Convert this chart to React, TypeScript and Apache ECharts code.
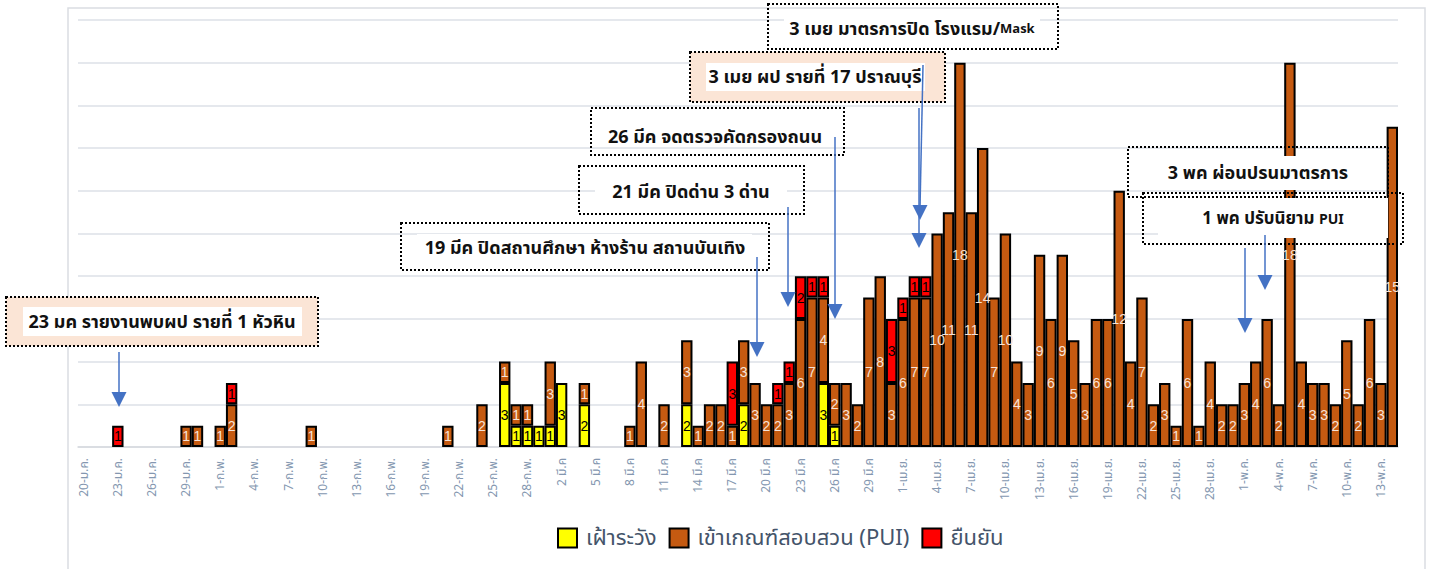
import React, { useEffect, useRef } from "react";
import * as echarts from "echarts";

const categories = [
  "20-ม.ค.", "21-ม.ค.", "22-ม.ค.", "23-ม.ค.", "24-ม.ค.", "25-ม.ค.", "26-ม.ค.", "27-ม.ค.", "28-ม.ค.", "29-ม.ค.", "30-ม.ค.", "31-ม.ค.",
  "1-ก.พ.", "2-ก.พ.", "3-ก.พ.", "4-ก.พ.", "5-ก.พ.", "6-ก.พ.", "7-ก.พ.", "8-ก.พ.", "9-ก.พ.", "10-ก.พ.",
  "11-ก.พ.", "12-ก.พ.", "13-ก.พ.", "14-ก.พ.", "15-ก.พ.", "16-ก.พ.", "17-ก.พ.", "18-ก.พ.", "19-ก.พ.", "20-ก.พ.",
  "21-ก.พ.", "22-ก.พ.", "23-ก.พ.", "24-ก.พ.", "25-ก.พ.", "26-ก.พ.", "27-ก.พ.", "28-ก.พ.", "29-ก.พ.",
  "1 มี.ค", "2 มี.ค", "3 มี.ค", "4 มี.ค", "5 มี.ค", "6 มี.ค", "7 มี.ค", "8 มี.ค", "9 มี.ค", "10 มี.ค",
  "11 มี.ค", "12 มี.ค", "13 มี.ค", "14 มี.ค", "15 มี.ค", "16 มี.ค", "17 มี.ค", "18 มี.ค", "19 มี.ค", "20 มี.ค",
  "21 มี.ค", "22 มี.ค", "23 มี.ค", "24 มี.ค", "25 มี.ค", "26 มี.ค", "27 มี.ค", "28 มี.ค", "29 มี.ค", "30 มี.ค", "31 มี.ค",
  "1-เม.ย.", "2-เม.ย.", "3-เม.ย.", "4-เม.ย.", "5-เม.ย.", "6-เม.ย.", "7-เม.ย.", "8-เม.ย.", "9-เม.ย.", "10-เม.ย.",
  "11-เม.ย.", "12-เม.ย.", "13-เม.ย.", "14-เม.ย.", "15-เม.ย.", "16-เม.ย.", "17-เม.ย.", "18-เม.ย.", "19-เม.ย.", "20-เม.ย.",
  "21-เม.ย.", "22-เม.ย.", "23-เม.ย.", "24-เม.ย.", "25-เม.ย.", "26-เม.ย.", "27-เม.ย.", "28-เม.ย.", "29-เม.ย.", "30-เม.ย.",
  "1-พ.ค.", "2-พ.ค.", "3-พ.ค.", "4-พ.ค.", "5-พ.ค.", "6-พ.ค.", "7-พ.ค.", "8-พ.ค.", "9-พ.ค.", "10-พ.ค.",
  "11-พ.ค.", "12-พ.ค.", "13-พ.ค.", "14-พ.ค.",
];

const seriesNames = ["เฝ้าระวัง", "เข้าเกณฑ์สอบสวน (PUI)", "ยืนยัน"];

// เฝ้าระวัง (yellow)
const watchValues: Record<string, number> = {
  "26-ก.พ.": 3, "27-ก.พ.": 1, "28-ก.พ.": 1, "29-ก.พ.": 1, "1 มี.ค": 1, "2 มี.ค": 3,
  "4 มี.ค": 2, "13 มี.ค": 2, "18 มี.ค": 2, "25 มี.ค": 3, "26 มี.ค": 1,
};

// เข้าเกณฑ์สอบสวน (PUI) (orange)
const puiValues: Record<string, number> = {
  "29-ม.ค.": 1, "30-ม.ค.": 1, "1-ก.พ.": 1, "2-ก.พ.": 2, "9-ก.พ.": 1, "21-ก.พ.": 1, "24-ก.พ.": 2,
  "26-ก.พ.": 1, "27-ก.พ.": 1, "28-ก.พ.": 1, "1 มี.ค": 3, "4 มี.ค": 1, "8 มี.ค": 1, "9 มี.ค": 4,
  "11 มี.ค": 2, "13 มี.ค": 3, "14 มี.ค": 1, "15 มี.ค": 2, "16 มี.ค": 2, "17 มี.ค": 1, "18 มี.ค": 3,
  "19 มี.ค": 3, "20 มี.ค": 2, "21 มี.ค": 2, "22 มี.ค": 3, "23 มี.ค": 6, "24 มี.ค": 7, "25 มี.ค": 4,
  "26 มี.ค": 2, "27 มี.ค": 3, "28 มี.ค": 2, "29 มี.ค": 7, "30 มี.ค": 8, "31 มี.ค": 3,
};
const puiApril = [6, 7, 7, 10, 11, 18, 11, 14, 7, 10, 4, 3, 9, 6, 9, 5, 3, 6, 6, 12, 4, 7, 2, 3, 1, 6, 1, 4, 2, 2];
const puiMay = [3, 4, 6, 2, 18, 4, 3, 3, 2, 5, 2, 6, 3, 15];

// ยืนยัน (red)
const confirmedValues: Record<string, number> = {
  "23-ม.ค.": 1, "2-ก.พ.": 1, "17 มี.ค": 3, "21 มี.ค": 1, "22 มี.ค": 1, "23 มี.ค": 2, "24 มี.ค": 1,
  "25 มี.ค": 1, "31 มี.ค": 3, "1-เม.ย.": 1, "2-เม.ย.": 1, "3-เม.ย.": 1,
};

const annotationTexts = [
  "23 มค รายงานพบผป รายที่ 1 หัวหิน",
  "19 มีค ปิดสถานศึกษา ห้างร้าน สถานบันเทิง",
  "21 มีค ปิดด่าน 3 ด่าน",
  "26 มีค จดตรวจคัดกรองถนน",
  "3 เมย ผป รายที่ 17 ปราณบุรี",
  "3 เมย มาตรการปิด โรงแรม/",
  "Mask",
  "3 พค ผ่อนปรนมาตรการ",
  "1 พค ปรับนิยาม ",
  "PUI",
];

const THAI_FONT = 'Tahoma, "Noto Sans Thai", "Leelawadee UI", "Noto Sans", sans-serif';

function buildSeriesData() {
  const aprStart = categories.indexOf("1-เม.ย.");
  const mayStart = categories.indexOf("1-พ.ค.");
  const watch = categories.map((c) => (watchValues[c] !== undefined ? watchValues[c] : null));
  const pui = categories.map((c, i) => {
    if (i >= mayStart) return puiMay[i - mayStart] ?? null;
    if (i >= aprStart) return puiApril[i - aprStart] ?? null;
    return puiValues[c] !== undefined ? puiValues[c] : null;
  });
  const conf = categories.map((c) => (confirmedValues[c] !== undefined ? confirmedValues[c] : null));
  return [watch, pui, conf];
}

function box(x: number, y: number, w: number, h: number, fill: string | null) {
  return {
    type: "rect",
    z: 100,
    shape: { x, y, width: w, height: h },
    style: {
      fill: fill || "rgba(0,0,0,0)",
      stroke: "#000",
      lineWidth: 2,
      lineDash: [2, 2],
    },
  };
}
function textBg(x: number, y: number, w: number, h: number) {
  return { type: "rect", z: 101, shape: { x, y, width: w, height: h }, style: { fill: "#fff" } };
}
function label(x: number, y: number, text: string, size: number, rich?: any) {
  return {
    type: "text",
    z: 102,
    x,
    y,
    style: {
      text,
      fill: "#111",
      fontSize: size,
      fontWeight: "bold",
      fontFamily: THAI_FONT,
      align: "center",
      verticalAlign: "middle",
      rich,
    },
  };
}
function arrow(x1: number, y1: number, x2: number, y2: number) {
  return [
    { type: "line", z: 103, shape: { x1, y1, x2, y2: y2 - 12 }, style: { stroke: "#4472C4", lineWidth: 1.5 } },
    {
      type: "polygon",
      z: 103,
      shape: { points: [[x2 - 7.5, y2 - 15], [x2 + 7.5, y2 - 15], [x2, y2]] },
      style: { fill: "#4472C4" },
    },
  ];
}

export default function App() {
  const ref = useRef<HTMLDivElement>(null);
  useEffect(() => {
    if (!ref.current) return;
    const chart = echarts.init(ref.current, undefined, { renderer: "svg" });
    const [watch, pui, conf] = buildSeriesData();
    const colors = ["#FFFF00", "#C55A11", "#FF0000"];
    const labelColors = ["#000", "#F6E3D8", "#000"];
    const datas = [watch, pui, conf];

    const graphic: any[] = [
      {
        type: "rect",
        z: -10,
        shape: { x: 68, y: 8, width: 1357, height: 600 },
        style: { fill: "rgba(0,0,0,0)", stroke: "#dadde2", lineWidth: 1.5 },
      },
      // 23 มค
      box(6, 297, 312, 49, "#FBE5D6"),
      textBg(23, 307, 279, 29),
      label(162, 322, annotationTexts[0], 18),
      ...arrow(119, 352, 119, 407),
      // 19 มีค
      box(401, 223, 368, 47, null),
      textBg(417, 234, 335, 28),
      label(585, 248, annotationTexts[1], 18),
      ...arrow(757, 257, 757, 357),
      // 21 มีค
      box(579, 166, 225, 48, null),
      textBg(595, 178, 192, 27),
      label(691, 192, annotationTexts[2], 18),
      ...arrow(788, 207, 788, 307),
      // 26 มีค
      box(591, 108, 253, 47, null),
      textBg(606, 118, 222, 28),
      label(715, 137, annotationTexts[3], 18),
      ...arrow(835, 137, 835, 319),
      // 3 เมย ผป
      box(690, 52, 255, 50, "#FBE5D6"),
      textBg(706, 63, 219, 28),
      label(815, 77, annotationTexts[4], 18),
      // 3 เมย มาตรการ
      box(768, 4, 290, 45, null),
      textBg(784, 15, 256, 28),
      label(912, 29, `{a|${annotationTexts[5]}}{b|${annotationTexts[6]}}`, 18, {
        a: { fontSize: 18, fontWeight: "bold", fontFamily: THAI_FONT, fill: "#111" },
        b: { fontSize: 13, fontWeight: "bold", fontFamily: THAI_FONT, fill: "#111" },
      }),
      ...arrow(923, 65, 920, 220),
      ...arrow(919, 108, 919, 248),
      // 3 พค
      box(1128, 147, 260, 50, null),
      textBg(1140, 156, 236, 34),
      label(1258, 173, annotationTexts[7], 18),
      // 1 พค
      box(1143, 193, 260, 51, null),
      textBg(1158, 198, 230, 40),
      label(1273, 219, `{a|${annotationTexts[8]}}{b|${annotationTexts[9]}}`, 17, {
        a: { fontSize: 17, fontWeight: "bold", fontFamily: THAI_FONT, fill: "#111" },
        b: { fontSize: 14, fontWeight: "bold", fontFamily: THAI_FONT, fill: "#111" },
      }),
      ...arrow(1265, 235, 1265, 290),
      ...arrow(1245, 248, 1245, 333),
    ];

    chart.setOption({
      animation: false,
      grid: { left: 78, right: 41, top: 20, bottom: 122, containLabel: false },
      legend: {
        data: seriesNames,
        left: 552,
        top: 522,
        itemWidth: 19,
        itemHeight: 19,
        itemGap: 12,
        icon: "rect",
        itemStyle: { borderColor: "#000", borderWidth: 2 },
        textStyle: { fontSize: 22, color: "#44546A", fontFamily: THAI_FONT, padding: [0, 0, 0, 4] },
      },
      xAxis: {
        type: "category",
        data: categories,
        boundaryGap: true,
        axisTick: { show: false },
        axisLine: { lineStyle: { color: "#d6d9de", width: 1.5 } },
        axisLabel: {
          interval: 2,
          rotate: 90,
          margin: 11,
          fontSize: 12,
          color: "#8497B0",
          fontFamily: THAI_FONT,
        },
        splitLine: { show: false },
      },
      yAxis: {
        type: "value",
        min: 0,
        max: 20,
        interval: 2,
        axisLabel: { show: false },
        axisLine: { show: false },
        axisTick: { show: false },
        splitLine: { lineStyle: { color: "#dde1e7", width: 1.5 } },
      },
      series: seriesNames.map((name, k) => ({
        name,
        type: "bar",
        stack: "total",
        barCategoryGap: "0%",
        data: datas[k],
        itemStyle: { color: colors[k], borderColor: "#000", borderWidth: 2 },
        label: {
          show: true,
          position: "inside",
          fontSize: 14,
          color: labelColors[k],
          fontFamily: '"Liberation Sans", Arial, sans-serif',
          formatter: (p: any) => (p.value == null ? "" : String(p.value)),
        },
        emphasis: { disabled: true },
      })),
      graphic,
    });
    return () => chart.dispose();
  }, []);
  return (
    <div
      ref={ref}
      style={{ position: "fixed", left: 0, top: 0, width: 1439, height: 569, background: "#fff" }}
    />
  );
}
